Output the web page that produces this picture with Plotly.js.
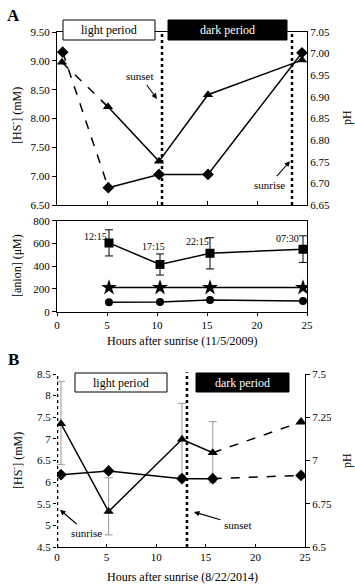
<!DOCTYPE html>
<html>
<head>
<meta charset="utf-8">
<script src="https://cdn.plot.ly/plotly-3.0.1.min.js"></script>
<style>html,body{margin:0;padding:0;background:#fff;}#chart{width:355px;height:587px;}</style>
</head>
<body>
<div id="chart"></div>
<script>
// ---------- Panel A (top): [HS-] and pH ----------
const xA_hs = [0.57, 5.13, 10.2, 15.1, 24.5];
const hsA   = [9.15, 6.80, 7.03, 7.03, 9.14];   // mM (diamonds)
const xA_ph = [0.5, 5.1, 10.2, 15.1, 24.5];
const phA   = [6.98, 6.877, 6.751, 6.905, 6.985]; // pH (triangles)
const sunsetA = 10.5, sunriseA = 23.5;

// ---------- Panel A (bottom): anions ----------
const xAn      = [5.2, 10.3, 15.3, 24.6];
const squares  = [605, 415, 513, 550];
const squareEr = [115, 93, 137, 117];
const stars    = [212, 212, 212, 212];
const circles  = [83, 85, 102, 94];
const timeLabels = ['12:15', '17:15', '22:15', '07:30'];
const timeLabX = [3.8, 9.6, 14.0, 23.0];
const timeLabY = [657, 569, 613, 640];

// ---------- Panel B ----------
const xB      = [0.4, 5.2, 12.6, 15.7, 24.6];
const hsB     = [7.35, 5.32, 6.99, 6.68, 7.39];   // mM (triangles)
const hsBplus = [0.98, 0.78, 0.83, 0.72, 0];
const hsBminus= [0.94, 0.54, 0.83, 0.69, 0];
const phB     = [6.918, 6.94, 6.895, 6.895, 6.914]; // pH (diamonds)
const sunriseB = 0.0, sunsetB = 13.1;

const FONT = 'Liberation Serif, Times New Roman, serif';
const X = p => p / 355;
const Y = p => 1 - p / 587;
const LW = 1.5;

const traces = [];
// Panel A top
traces.push({x: xA_hs.slice(0,2), y: hsA.slice(0,2), mode:'lines', line:{color:'#000', width:LW, dash:'dash'}, xaxis:'x', yaxis:'y'});
traces.push({x: xA_hs.slice(1), y: hsA.slice(1), mode:'lines', line:{color:'#000', width:LW}, xaxis:'x', yaxis:'y'});
traces.push({x: xA_hs, y: hsA, mode:'markers', marker:{symbol:'diamond', size:9, color:'#000'}, xaxis:'x', yaxis:'y'});
traces.push({x: xA_ph.slice(0,2), y: phA.slice(0,2), mode:'lines', line:{color:'#000', width:LW, dash:'dash'}, xaxis:'x', yaxis:'y2'});
traces.push({x: xA_ph.slice(1), y: phA.slice(1), mode:'lines', line:{color:'#000', width:LW}, xaxis:'x', yaxis:'y2'});
traces.push({x: xA_ph, y: phA, mode:'markers', marker:{symbol:'triangle-up', size:9, color:'#000'}, xaxis:'x', yaxis:'y2'});
// Panel A bottom
traces.push({x: xAn, y: squares, mode:'lines+markers', line:{color:'#000', width:LW},
  marker:{symbol:'square', size:9, color:'#000'},
  error_y:{type:'data', array: squareEr, color:'#000', thickness:1, width:4}, xaxis:'x2', yaxis:'y3'});
traces.push({x: xAn, y: stars, mode:'lines+markers', line:{color:'#000', width:LW},
  marker:{symbol:'star', size:12, color:'#000'}, xaxis:'x2', yaxis:'y3'});
traces.push({x: xAn, y: circles, mode:'lines+markers', line:{color:'#000', width:LW},
  marker:{symbol:'circle', size:8, color:'#000'}, xaxis:'x2', yaxis:'y3'});
// Panel B
traces.push({x: xB.slice(0,4), y: hsB.slice(0,4), mode:'lines', line:{color:'#000', width:LW}, xaxis:'x3', yaxis:'y4'});
traces.push({x: xB.slice(3), y: hsB.slice(3), mode:'lines', line:{color:'#000', width:LW, dash:'dash'}, xaxis:'x3', yaxis:'y4'});
traces.push({x: xB.slice(0,4), y: hsB.slice(0,4), mode:'markers', marker:{symbol:'triangle-up', size:9, color:'#000'},
  error_y:{type:'data', symmetric:false, array: hsBplus.slice(0,4), arrayminus: hsBminus.slice(0,4), color:'#999', thickness:1, width:4},
  xaxis:'x3', yaxis:'y4'});
traces.push({x: xB.slice(4), y: hsB.slice(4), mode:'markers', marker:{symbol:'triangle-up', size:10, color:'#000'}, xaxis:'x3', yaxis:'y4'});
traces.push({x: xB.slice(0,4), y: phB.slice(0,4), mode:'lines', line:{color:'#000', width:LW}, xaxis:'x3', yaxis:'y5'});
traces.push({x: xB.slice(3), y: phB.slice(3), mode:'lines', line:{color:'#000', width:LW, dash:'dash'}, xaxis:'x3', yaxis:'y5'});
traces.push({x: xB, y: phB, mode:'markers', marker:{symbol:'diamond', size:9, color:'#000'}, xaxis:'x3', yaxis:'y5'});

const tickFont = {family: FONT, size: 11, color: '#000'};
const baseAx = {showgrid:false, zeroline:false, showline:true, linecolor:'#000', linewidth:1, tickcolor:'#000', tickfont: tickFont, fixedrange:true};

const layout = {
  width: 355, height: 587,
  margin: {l:0, r:0, t:0, b:0},
  paper_bgcolor: '#fff', plot_bgcolor: '#fff',
  showlegend: false,
  font: {family: FONT, color:'#000'},
  xaxis: Object.assign({}, baseAx, {domain:[X(57), X(307)], range:[0,25], anchor:'y', mirror:true, ticks:'inside', ticklen:4, dtick:5, showticklabels:false}),
  yaxis: Object.assign({}, baseAx, {domain:[Y(205), Y(32)], range:[6.5,9.5], anchor:'x', dtick:0.5, tickformat:'.2f', ticks:'outside', ticklen:4}),
  yaxis2: Object.assign({}, baseAx, {overlaying:'y', side:'right', anchor:'x', range:[6.65,7.05], dtick:0.05, tickformat:'.2f', ticks:'', ticklen:0}),
  xaxis2: Object.assign({}, baseAx, {domain:[X(57), X(307)], range:[0,25], anchor:'y3', mirror:true, ticks:'outside', ticklen:3, dtick:5}),
  yaxis3: Object.assign({}, baseAx, {domain:[Y(311.7), Y(220.7)], range:[0,800], anchor:'x2', mirror:true, dtick:200, ticks:'outside', ticklen:4}),
  xaxis3: Object.assign({}, baseAx, {domain:[X(57), X(305)], range:[0,25], anchor:'y4', ticks:'inside', ticklen:3, dtick:5}),
  yaxis4: Object.assign({}, baseAx, {domain:[Y(547), Y(374)], range:[4.5,8.5], anchor:'x3', dtick:0.5, ticks:'outside', ticklen:3, showline:false}),
  yaxis5: Object.assign({}, baseAx, {overlaying:'y4', side:'right', anchor:'x3', range:[6.5,7.5], dtick:0.25, ticks:'outside', ticklen:4}),
  shapes: [
    {type:'line', xref:'x', yref:'y domain', x0:sunsetA, x1:sunsetA, y0:0, y1:1, line:{color:'#000', width:2.5, dash:'dot'}},
    {type:'line', xref:'x', yref:'y domain', x0:sunriseA, x1:sunriseA, y0:0, y1:1, line:{color:'#000', width:2.5, dash:'dot'}},
    {type:'line', xref:'x3', yref:'y4 domain', x0:sunriseB, x1:sunriseB, y0:0, y1:1, line:{color:'#000', width:2.5, dash:'dot'}},
    {type:'line', xref:'x3', yref:'y4 domain', x0:sunsetB, x1:sunsetB, y0:0, y1:1.01, line:{color:'#000', width:2.5, dash:'dot'}},
    {type:'rect', xref:'paper', yref:'paper', x0:X(63), x1:X(155), y0:Y(40), y1:Y(20), fillcolor:'#fff', line:{color:'#000', width:1}},
    {type:'rect', xref:'paper', yref:'paper', x0:X(168), x1:X(287), y0:Y(40), y1:Y(20), fillcolor:'#000', line:{color:'#000', width:1}},
    {type:'rect', xref:'paper', yref:'paper', x0:X(75), x1:X(167), y0:Y(392), y1:Y(373), fillcolor:'#fff', line:{color:'#000', width:1}},
    {type:'rect', xref:'paper', yref:'paper', x0:X(196), x1:X(289), y0:Y(392), y1:Y(373), fillcolor:'#000', line:{color:'#000', width:1}}
  ],
  annotations: []
};

const ann = layout.annotations;
const txt = (x, y, text, size, opts) => ann.push(Object.assign({xref:'paper', yref:'paper', x:X(x), y:Y(y), text:text, showarrow:false, xanchor:'center', yanchor:'middle', font:{family:FONT, size:size, color:'#000'}}, opts || {}));

txt(13, 15, '<b>A</b>', 17);
txt(13, 359, '<b>B</b>', 17);
txt(109, 30, 'light period', 12);
txt(227, 30, 'dark period', 12, {font:{family:FONT, size:12, color:'#fff'}});
txt(121, 382.5, 'light period', 12);
txt(242, 382.5, 'dark period', 12, {font:{family:FONT, size:12, color:'#fff'}});
txt(17, 116, '[HS<sup>-</sup>] (mM)', 12, {textangle:-90});
txt(347, 118, 'pH', 12, {textangle:-90});
txt(17, 266, '[anion] (μM)', 12, {textangle:-90});
txt(182, 341, 'Hours after sunrise (11/5/2009)', 12);
txt(17, 461, '[HS<sup>-</sup>] (mM)', 12, {textangle:-90});
txt(347, 461, 'pH', 12, {textangle:-90});
txt(182, 577, 'Hours after sunrise (8/22/2014)', 12);

timeLabels.forEach((t, i) => ann.push({xref:'x2', yref:'y3', x:timeLabX[i], y:timeLabY[i], text:t, showarrow:false, font:{family:FONT, size:10, color:'#000'}}));

const arrowAnn = (xref, yref, x, y, ax, ay, text) => ann.push({xref:xref, yref:yref, x:x, y:y, ax:ax, ay:ay, text:text, showarrow:true, arrowhead:2, arrowsize:1, arrowwidth:1.1, arrowcolor:'#000', standoff:0, startstandoff:2, font:{family:FONT, size:11, color:'#000'}});
arrowAnn('x', 'y', 10.0, 8.34, -17, -23, 'sunset');
arrowAnn('x', 'y', 23.3, 7.26, -21, 24, 'sunrise');
arrowAnn('x3', 'y4', 0.3, 5.36, 27, 23, 'sunrise');
arrowAnn('x3', 'y4', 13.8, 5.31, 44, 13, 'sunset');

Plotly.newPlot('chart', traces, layout, {staticPlot:true, displayModeBar:false});
</script>
</body>
</html>
